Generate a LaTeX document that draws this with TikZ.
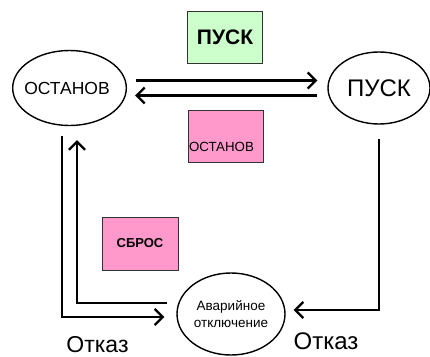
\documentclass[tikz,border=0pt]{standalone}
\usepackage{fontspec}
\setmainfont{Liberation Sans}
\usetikzlibrary{shapes.geometric,arrows.meta}
\definecolor{boxgreen}{HTML}{CCFFCC}
\definecolor{boxpink}{HTML}{FF99CC}
\definecolor{boxline}{HTML}{333333}
\begin{document}
\begin{tikzpicture}[x=1pt,y=-1pt,
  state/.style={ellipse,draw,line width=1.4pt,inner sep=0pt},
  cmd/.style={rectangle,draw=boxline,line width=1pt,inner sep=1pt,minimum width=75pt,minimum height=52pt},
  arr/.style={line width=2.3pt,-{Straight Barb[length=8pt,width=16pt,line width=2.3pt]}},
  fs/.style={font=\fontsize{#1}{#1}\selectfont}]
\useasboundingbox (0,0) rectangle (430,356);
\node[state,minimum width=109pt,minimum height=75pt,fs=17.5] (ostanov) at (69.5,88) {\hspace*{-5pt}ОСТАНОВ};
\node[state,minimum width=102pt,minimum height=72pt,fs=24] (pusk) at (379,88) {ПУСК};
\node[state,minimum width=108pt,minimum height=82pt,font=\fontsize{13.5}{17}\selectfont,align=center] (avar) at (231,314) {Аварийное\\отключение};
\node[cmd,fill=boxgreen,font=\fontsize{21}{21}\selectfont\bfseries] (bpusk) at (225,37.5) {ПУСК};
\node[cmd,fill=boxpink,fs=13.3,text height=29pt,text depth=0pt,text width=73pt,align=left,inner xsep=0.5pt] (bostanov) at (225.5,136.5) {ОСТАНОВ};
\node[cmd,fill=boxpink,font=\fontsize{13}{13}\selectfont\bfseries,minimum width=76pt,minimum height=53pt] (bsbros) at (140,243.5) {СБРОС};
\draw[arr] ([shift={(9pt,7.5pt)}]ostanov.east) -- ([shift={(-10pt,7.5pt)}]pusk.west);
\draw[arr] ([shift={(-10pt,-7.5pt)}]pusk.west) -- ([shift={(8pt,-7.5pt)}]ostanov.east);
\draw[arr] ([shift={(-7.5pt,-10pt)}]ostanov.south) |- ([shift={(-12pt,-3pt)}]avar.west);
\draw[arr] ([shift={(-9pt,11pt)}]avar.west) -| ([shift={(7.5pt,-14pt)}]ostanov.south);
\draw[arr] ([yshift=-14pt]pusk.south) |- ([shift={(8pt,4pt)}]avar.east);
\node[fs=23,anchor=base,inner sep=0pt] (otkaz1) at (97.5,352) {Отказ};
\node[fs=24,anchor=base] (otkaz2) at (326,349) {Отказ};
\end{tikzpicture}
\end{document}
